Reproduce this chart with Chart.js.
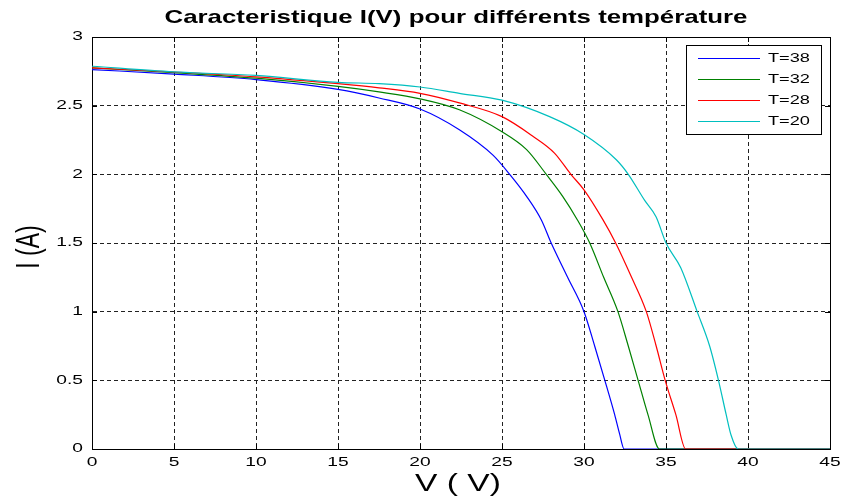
<!DOCTYPE html>
<html>
<head>
<meta charset="utf-8">
<script src="https://cdn.jsdelivr.net/npm/chart.js@4/dist/chart.umd.min.js"></script>
<style>
html,body{margin:0;padding:0;background:#fff;}
#wrap{width:842px;height:499px;position:relative;}
</style>
</head>
<body>
<div id="wrap"><canvas id="c" width="842" height="499"></canvas></div>
<script>
// ---- data ----
const titleText = "Caracteristique I(V) pour différents température";
const xTitle = "V ( V)";
const yTitle = "I (A)";
const seriesLabels = ["T=38", "T=32", "T=28", "T=20"];
const seriesColors = ["#0000ff", "#008000", "#ff0000", "#00bfbf"];

const vT38 = [0, 5, 10, 15, 17.5, 20, 22.4, 24.45, 25.47, 26.5, 27.4, 28.0, 29.0, 30.0, 30.65, 31.27, 31.87, 32.17, 32.45, 45];
const iT38 = [2.763, 2.73, 2.69, 2.618, 2.556, 2.476, 2.325, 2.14, 2.0, 1.84, 1.668, 1.5, 1.25, 1.0, 0.75, 0.5, 0.25, 0.11, 0, 0];

const vT32 = [0, 5, 10, 15, 17.5, 20, 22.4, 25, 26.5, 27.7, 28.7, 29.6, 30.35, 31.2, 32.07, 32.7, 33.3, 33.9, 34.6, 45];
const iT32 = [2.775, 2.74, 2.70, 2.64, 2.60, 2.55, 2.47, 2.31, 2.18, 2.0, 1.84, 1.668, 1.5, 1.25, 1.0, 0.75, 0.5, 0.25, 0, 0];

const vT28 = [0, 5, 10, 15, 17.5, 20, 22.4, 25, 26.9, 28.2, 29.2, 30, 31.16, 31.93, 32.9, 33.8, 34.4, 34.95, 35.6, 36.2, 45];
const iT28 = [2.775, 2.745, 2.71, 2.66, 2.63, 2.59, 2.52, 2.42, 2.276, 2.155, 2.0, 1.887, 1.668, 1.5, 1.25, 1.0, 0.75, 0.5, 0.25, 0, 0];

const vT20 = [0, 5, 10, 15, 17.5, 20, 22.4, 25, 27.9, 30, 31.97, 32.7, 33.7, 34.4, 35.0, 35.9, 36.9, 37.66, 38.2, 38.67, 38.97, 39.4, 45];
const iT20 = [2.787, 2.746, 2.72, 2.67, 2.66, 2.636, 2.59, 2.54, 2.42, 2.29, 2.106, 2.0, 1.81, 1.69, 1.5, 1.32, 1.0, 0.75, 0.5, 0.25, 0.1, 0, 0];

const xMin = 0, xMax = 45, xStep = 5;
const yMin = 0, yMax = 3, yStep = 0.5;

const seriesV = [vT38, vT32, vT28, vT20];
const seriesI = [iT38, iT32, iT28, iT20];

const FONT = "'Liberation Sans', Arial, sans-serif";

const datasets = seriesLabels.map((lab, k) => ({
  label: lab,
  data: seriesV[k].map((v, j) => ({x: v, y: seriesI[k][j]})),
  borderColor: seriesColors[k],
  backgroundColor: seriesColors[k],
  borderWidth: 1.2,
  pointRadius: 0,
  fill: false,
  cubicInterpolationMode: 'monotone',
  order: seriesLabels.length - k   // later series drawn on top
}));

// text drawn horizontally stretched, as in the reference picture
function stretchText(ctx, text, x, y, font, sx, align, rot) {
  ctx.save();
  ctx.translate(x, y);
  if (rot) ctx.rotate(rot);
  ctx.scale(sx, 1);
  ctx.font = font;
  ctx.fillStyle = '#000';
  ctx.textAlign = align;
  ctx.textBaseline = 'middle';
  ctx.fillText(text, 0, 0);
  ctx.restore();
}

const framePlugin = {
  id: 'frame',
  beforeDatasetsDraw(chart) {
    const {ctx, chartArea: a} = chart;
    ctx.save();
    ctx.strokeStyle = '#000';
    ctx.lineWidth = 1;
    ctx.strokeRect(Math.round(a.left) + 0.5, Math.round(a.top) + 0.5,
                   Math.round(a.right - a.left), Math.round(a.bottom - a.top));
    const xs = chart.scales.x, ys = chart.scales.y;
    const tl = 5;
    ctx.beginPath();
    xs.ticks.forEach(t => {
      const px = Math.round(xs.getPixelForValue(t.value)) + 0.5;
      ctx.moveTo(px, a.bottom); ctx.lineTo(px, a.bottom - tl);
      ctx.moveTo(px, a.top); ctx.lineTo(px, a.top + tl);
    });
    ys.ticks.forEach(t => {
      const py = Math.round(ys.getPixelForValue(t.value)) + 0.5;
      ctx.moveTo(a.left, py); ctx.lineTo(a.left + tl, py);
      ctx.moveTo(a.right, py); ctx.lineTo(a.right - tl, py);
    });
    ctx.stroke();
    ctx.restore();
  },
  afterDraw(chart) {
    const {ctx, chartArea: a} = chart;
    const xs = chart.scales.x, ys = chart.scales.y;
    // tick labels
    xs.ticks.forEach(t => {
      stretchText(ctx, String(t.value), xs.getPixelForValue(t.value), 463,
                  "12px " + FONT, 1.6, 'center');
    });
    ys.ticks.forEach(t => {
      stretchText(ctx, String(t.value), 83, ys.getPixelForValue(t.value),
                  "12px " + FONT, 1.6, 'right');
    });
    // axis titles
    stretchText(ctx, xTitle, 458, 485, "23px " + FONT, 1.46, 'center');
    ctx.save();
    ctx.translate(30, 247);
    ctx.rotate(-Math.PI / 2);
    ctx.font = "23px " + FONT;
    ctx.fillStyle = '#000';
    ctx.textAlign = 'center';
    ctx.textBaseline = 'middle';
    ctx.scale(1, 1.46);
    ctx.fillText(yTitle, 0, 0);
    ctx.restore();
    // title
    stretchText(ctx, titleText, 456, 18, "bold 19px " + FONT, 1.36, 'center');
    // legend box
    const bx = 686.5, by = 45.5, bw = 135, bh = 89;
    ctx.save();
    ctx.fillStyle = '#fff';
    ctx.fillRect(bx, by, bw, bh);
    ctx.strokeStyle = '#000';
    ctx.lineWidth = 1;
    ctx.strokeRect(bx, by, bw, bh);
    chart.data.datasets.forEach((ds, k) => {
      const y = 57.5 + k * 21.1;
      ctx.strokeStyle = ds.borderColor;
      ctx.lineWidth = 1.2;
      ctx.beginPath();
      ctx.moveTo(698, Math.round(y) + 0.5);
      ctx.lineTo(760, Math.round(y) + 0.5);
      ctx.stroke();
    });
    ctx.restore();
    chart.data.datasets.forEach((ds, k) => {
      const y = 57.5 + k * 21.1;
      stretchText(ctx, ds.label, 768, y + 1, "13px " + FONT, 1.4, 'left');
    });
  }
};

new Chart(document.getElementById('c'), {
  type: 'line',
  data: { datasets },
  options: {
    responsive: false,
    animation: false,
    layout: { padding: { top: 37, right: 12, bottom: 0, left: 0 } },
    plugins: {
      legend: { display: false },
      title: { display: false },
      tooltip: { enabled: false }
    },
    scales: {
      x: {
        type: 'linear',
        min: xMin, max: xMax,
        afterFit(s) { s.height = 50; },
        ticks: { stepSize: xStep, display: false, autoSkip: false },
        grid: { color: '#222', lineWidth: 1, drawTicks: false },
        border: { display: true, color: '#000', dash: [4, 3] },
        title: { display: false, text: xTitle }
      },
      y: {
        type: 'linear',
        min: yMin, max: yMax,
        afterFit(s) { s.width = 92; },
        ticks: { stepSize: yStep, display: false },
        grid: { color: '#222', lineWidth: 1, drawTicks: false },
        border: { display: true, color: '#000', dash: [4, 3] },
        title: { display: false, text: yTitle }
      }
    }
  },
  plugins: [framePlugin]
});
</script>
</body>
</html>
